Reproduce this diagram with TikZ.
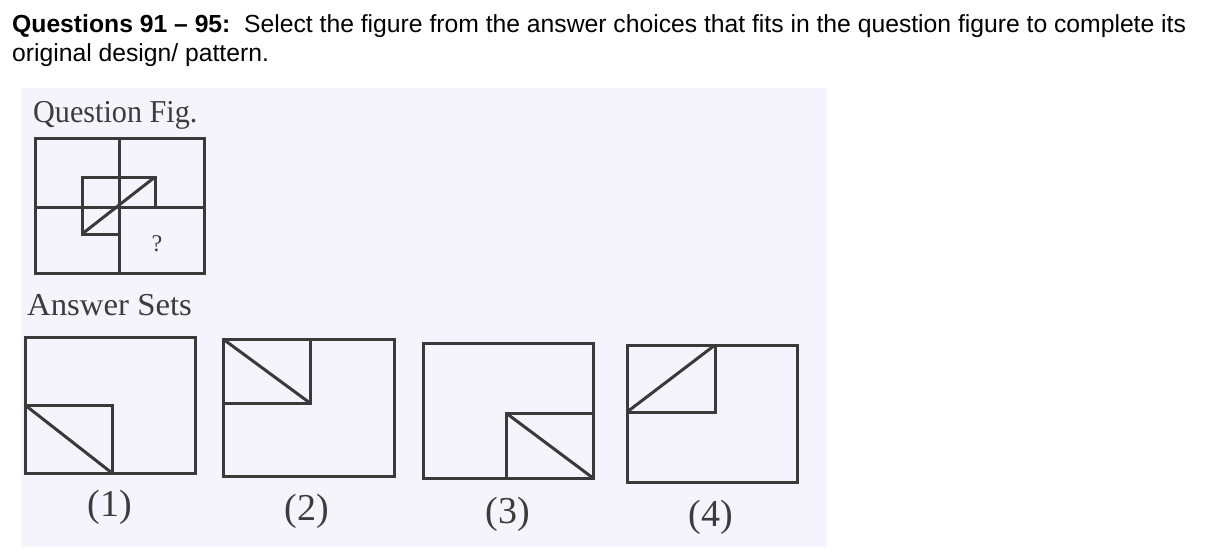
\documentclass[tikz,border=0pt]{standalone}
\usepackage{fontspec}
\setmainfont{Liberation Serif}
\newfontfamily\headfont{Liberation Sans}
\usepackage{xcolor}
\definecolor{panelbg}{HTML}{F5F4FC}
\definecolor{inkline}{HTML}{3A3A3A}
\definecolor{scantext}{HTML}{3C3C3C}

\tikzset{
  fig/.style={draw=inkline, line width=3pt, line join=miter},
  scanlabel/.style={text=scantext, inner sep=0pt, anchor=base west},
  optlabel/.style={text=scantext, inner sep=0pt, anchor=base, font=\fontsize{38}{42}\selectfont}
}

\begin{document}
\begin{tikzpicture}[x=1pt,y=-1pt]
%
   \useasboundingbox (0,0) rectangle (1206,558);
   \fill [white] (0,0) rectangle (1206,558);
   \fill [panelbg] (21,88) rectangle (827,547);

   % header text
   \node [anchor=base west, inner sep=0pt, font=\headfont\fontsize{24.7}{28}\selectfont] (head1) at (12,32)
      {\textbf{Questions 91 – 95:}\ \ Select the figure from the answer choices that fits in the question figure to complete its};
   \node [anchor=base west, inner sep=0pt, font=\headfont\fontsize{24.7}{28}\selectfont] (head2) at (12,61)
      {original design/ pattern.};

   % question figure
   \node [scanlabel, font=\fontsize{29}{32}\selectfont] (qtitle) at (33,122) {\scalebox{1.04}[1.1]{Question Fig.}};
   \draw [fig] (35,138) rectangle (204,273);
   \draw [fig] (119,138) -- (119,273);
   \draw [fig] (35,207) -- (204,207);
   \draw [fig] (119,234) -- (82,234) -- (82,177) -- (155,177) -- (155,207);
   \draw [fig] (82,234) -- (155,177);
   \node [text=scantext, font=\fontsize{24}{26}\selectfont] (qmark) at (157,244) {?};

   \node [scanlabel, font=\fontsize{29}{32}\selectfont] (atitle) at (27,315) {\scalebox{1.13}[1.1]{Answer Sets}};

   % choice 1
   \draw [fig] (25,337) rectangle (195,473);
   \draw [fig] (25,405) -- (112,405) -- (112,473);
   \draw [fig] (25,405) -- (112,473);
   \node [optlabel] (opt1) at (110,516) {(1)};

   % choice 2
   \draw [fig] (223,339) rectangle (394,476);
   \draw [fig] (223,403) -- (310,403) -- (310,339);
   \draw [fig] (223,339) -- (310,403);
   \node [optlabel] (opt2) at (307,520) {(2)};

   % choice 3
   \draw [fig] (423,343) rectangle (593,478);
   \draw [fig] (593,413) -- (506,413) -- (506,478);
   \draw [fig] (506,413) -- (593,478);
   \node [optlabel] (opt3) at (508,523) {(3)};

   % choice 4
   \draw [fig] (627,345) rectangle (797,482);
   \draw [fig] (627,412) -- (715,412) -- (715,345);
   \draw [fig] (627,412) -- (715,345);
   \node [optlabel] (opt4) at (711,526) {(4)};

\end{tikzpicture}
\end{document}
